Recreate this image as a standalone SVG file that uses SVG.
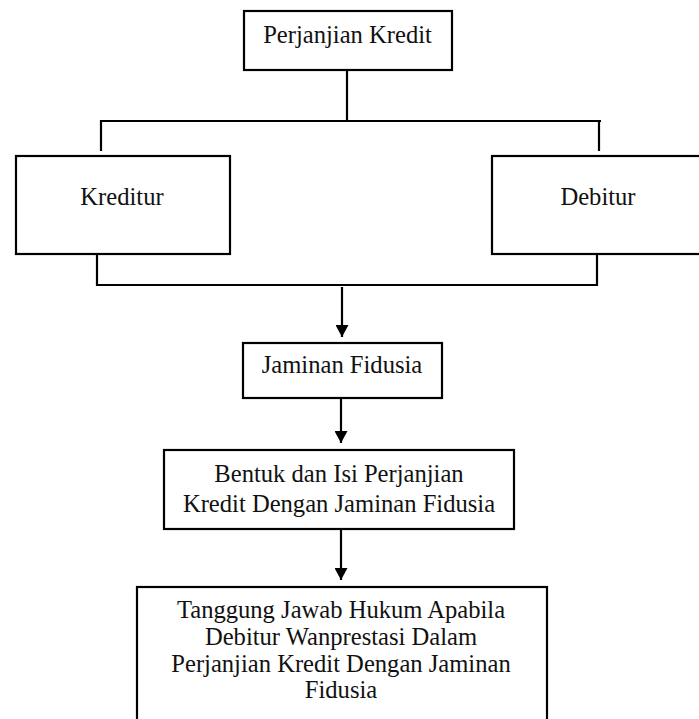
<svg xmlns="http://www.w3.org/2000/svg" width="699" height="719" viewBox="0 0 699 719">
  <style>
    .box { fill: #ffffff; stroke: #000000; stroke-width: 2.2; }
    .line { fill: none; stroke: #000000; stroke-width: 2.2; }
    .txt { font-family: "Liberation Serif", "Times New Roman", serif; font-size: 24.6px; fill: #111111; text-anchor: middle; }
  </style>
  <defs>
    <marker id="arrow" markerUnits="userSpaceOnUse" markerWidth="13" markerHeight="13" refX="12" refY="6.5" orient="auto">
      <path d="M0,0 L12,6.5 L0,13 z" fill="#000000"/>
    </marker>
  </defs>
  <rect x="0" y="0" width="699" height="719" fill="#ffffff"/>

  <g id="connectors">
    <path class="line" d="M347,70 V121"/>
    <path class="line" d="M101,151 V121 H601"/>
    <path class="line" d="M599,121 V151"/>
    <path class="line" d="M97,255 V285 H597 V255"/>
    <path class="line" d="M342,287 V337" marker-end="url(#arrow)"/>
    <path class="line" d="M341,398 V443" marker-end="url(#arrow)"/>
    <path class="line" d="M341,529 V580" marker-end="url(#arrow)"/>
  </g>

  <g id="perjanjian-kredit">
    <rect class="box" x="244" y="11" width="208" height="59"/>
    <text class="txt" x="347.5" y="43">Perjanjian Kredit</text>
  </g>

  <g id="kreditur">
    <rect class="box" x="16" y="156" width="214" height="98"/>
    <text class="txt" x="122" y="205">Kreditur</text>
  </g>

  <g id="debitur">
    <rect class="box" x="492" y="156" width="215" height="98"/>
    <text class="txt" x="598" y="205">Debitur</text>
  </g>

  <g id="jaminan-fidusia">
    <rect class="box" x="243" y="343" width="199" height="55"/>
    <text class="txt" x="342" y="373">Jaminan Fidusia</text>
  </g>

  <g id="bentuk-isi">
    <rect class="box" x="164" y="450" width="350" height="79"/>
    <text class="txt" x="339" y="482">Bentuk dan Isi Perjanjian</text>
    <text class="txt" x="339" y="512">Kredit Dengan Jaminan Fidusia</text>
  </g>

  <g id="tanggung-jawab">
    <rect class="box" x="137" y="587" width="410" height="150"/>
    <text class="txt" x="341" y="618">Tanggung Jawab Hukum Apabila</text>
    <text class="txt" x="341" y="645">Debitur Wanprestasi Dalam</text>
    <text class="txt" x="341" y="671.5">Perjanjian Kredit Dengan Jaminan</text>
    <text class="txt" x="341" y="698">Fidusia</text>
  </g>
</svg>
